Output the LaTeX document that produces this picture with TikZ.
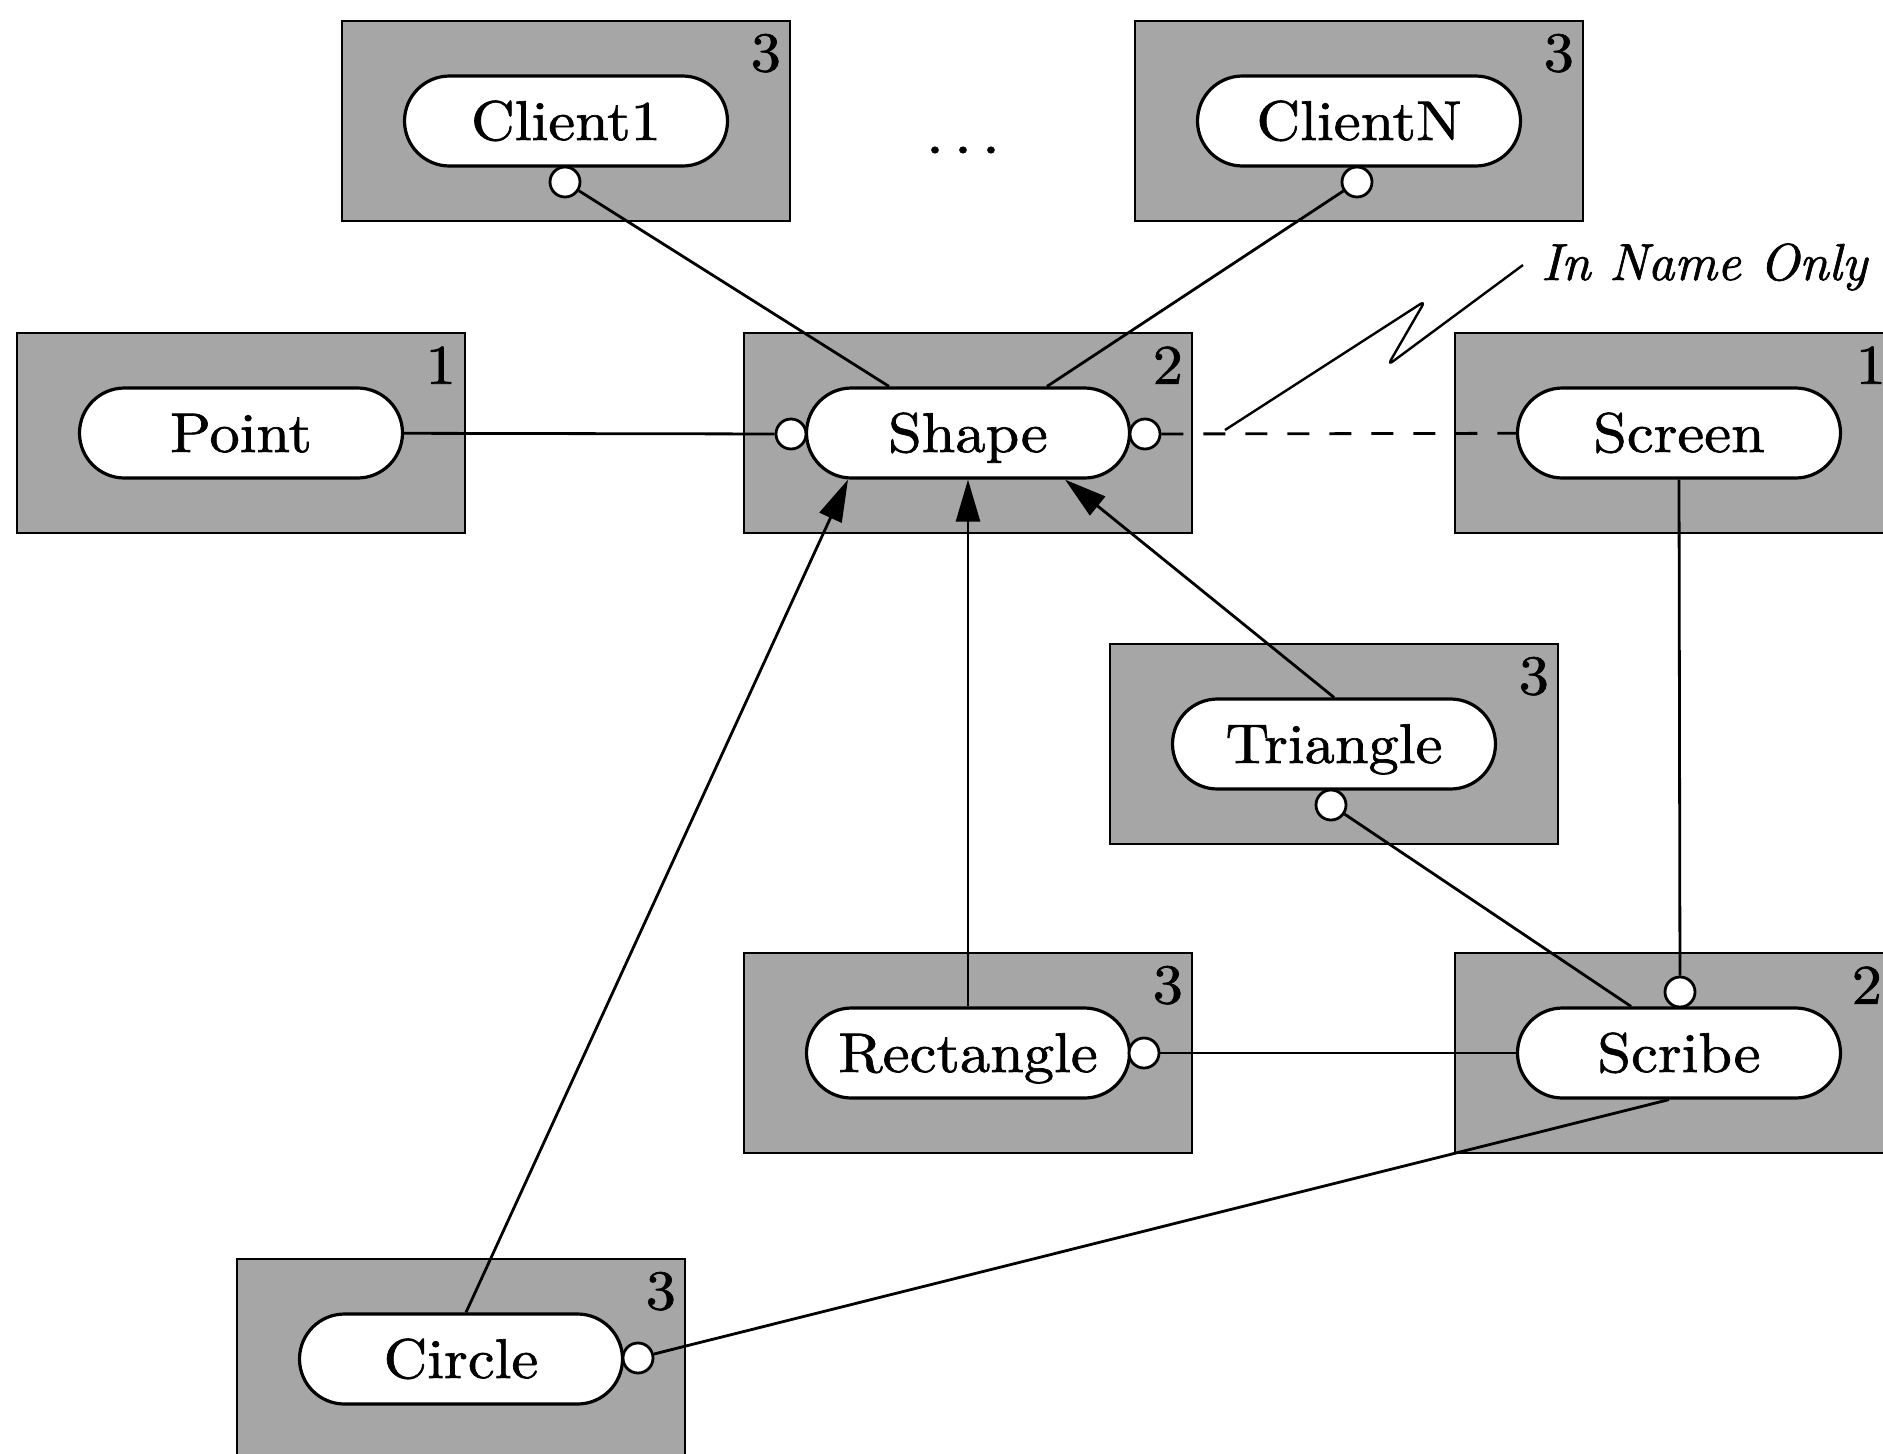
\documentclass[tikz,border=0pt]{standalone}
\usepackage{fontspec}
\newfontfamily\pillfont{lmroman10-regular}[Extension=.otf, FakeBold=1.2, FakeStretch=1.08]
\newfontfamily\pillit{lmroman10-italic}[Extension=.otf, FakeBold=1.2]
\usetikzlibrary{arrows.meta}
\tikzset{
  gbox/.style={draw=black, line width=1.6pt, fill=black!35, minimum width=448pt, minimum height=200pt, inner sep=0pt},
  pill/.style={draw=black, line width=3.2pt, fill=white, rounded corners=45pt, minimum width=323pt, minimum height=90pt, inner sep=0pt, font=\pillfont\fontsize{56}{60}\selectfont, text height=38pt, text depth=0pt},
  lolli/.style={circle, draw=black, line width=2.8pt, fill=white, minimum size=30pt, inner sep=0pt},
  num/.style={inner sep=0pt, font=\pillfont\fontsize{56}{60}\selectfont},
  conn/.style={line width=2.8pt},
  arr/.style={conn, -{Triangle[length=42pt,width=24pt]}},
}
\begin{document}
\begin{tikzpicture}[x=1pt,y=-1pt]
\useasboundingbox (0,0) rectangle (1883,1454);
\fill[white] (0,0) rectangle (1883,1454);
\clip (0,0) rectangle (1883,1454);

% grey boxes
\node[gbox] (bc1) at (566,121) {};
\node[gbox] (bcn) at (1359,121) {};
\node[gbox] (bpt) at (241,433) {};
\node[gbox] (bsh) at (968,433) {};
\node[gbox] (bsc) at (1679,433) {};
\node[gbox] (btr) at (1334,744) {};
\node[gbox] (bre) at (968,1053) {};
\node[gbox] (bsb) at (1679,1053) {};
\node[gbox] (bci) at (461,1359) {};

% numbers
\node[num] (n1) at ([xshift=-25pt,yshift=-33pt]bc1.north east) {3};
\node[num] (n2) at ([xshift=-25pt,yshift=-33pt]bcn.north east) {3};
\node[num] (n3) at ([xshift=-25pt,yshift=-33pt]bpt.north east) {1};
\node[num] (n4) at ([xshift=-25pt,yshift=-33pt]bsh.north east) {2};
\node[num] (n5) at ([xshift=-33pt,yshift=-33pt]bsc.north east) {1};
\node[num] (n6) at ([xshift=-25pt,yshift=-33pt]btr.north east) {3};
\node[num] (n7) at ([xshift=-25pt,yshift=-33pt]bre.north east) {3};
\node[num] (n8) at ([xshift=-37pt,yshift=-33pt]bsb.north east) {2};
\node[num] (n9) at ([xshift=-25pt,yshift=-33pt]bci.north east) {3};

% pills
\node[pill] (client1) at (bc1) {Client1};
\node[pill] (clientN) at (bcn) {ClientN};
\node[pill] (point) at (bpt) {Point};
\node[pill] (shape) at (bsh) {Shape};
\node[pill] (screen) at (bsc) {Screen};
\node[pill] (triangle) at (btr) {Triangle};
\node[pill] (rectangle) at (bre) {Rectangle};
\node[pill] (scribe) at (bsb) {Scribe};
\node[pill] (circle) at (bci) {Circle};

% lollipops
\node[lolli] (lc1) at (565,182) {};
\node[lolli] (lcn) at (1357,182) {};
\node[lolli] (lshL) at (791,434) {};
\node[lolli] (lshR) at (1145,434) {};
\node[lolli] (ltr) at (1331,805) {};
\node[lolli] (lre) at (1144,1053) {};
\node[lolli] (lsb) at (1680,992) {};
\node[lolli] (lci) at (638,1358) {};

% dots and label
\node[inner sep=0pt, font=\pillfont\fontsize{60}{60}\selectfont] (dots) at (963,150) {.\kern10pt.\kern10pt.};
\node[inner sep=0pt, anchor=base west, font=\pillit\fontsize{52}{60}\selectfont] (inname) at (1541,280) {In Name Only};

% connectors
\draw[conn] (lc1) -- ([xshift=-79pt]shape.north);
\draw[conn] (lcn) -- ([xshift=79pt]shape.north);
\draw[conn] (point) -- (lshL);
\draw[conn, dash pattern=on 22pt off 20pt] (lshR) -- (screen);
\coordinate (z0) at (1225,430);
\coordinate (z1) at (1425,301);
\coordinate (z2) at (1388,365);
\coordinate (z3) at (1523,265);
\draw[line width=2.4pt, rounded corners=6pt] (z0) -- (z1) -- (z2) -- (z3);
\draw[arr] (triangle.north) -- ([xshift=97pt]shape.south);
\draw[arr] (rectangle.north) -- (shape.south);
\draw[arr] ([xshift=5pt]circle.north) -- ([xshift=-120pt]shape.south);
\draw[conn] (screen.south) -- (lsb);
\draw[conn] (ltr) -- ([xshift=-48pt]scribe.north);
\draw[conn] (lre) -- (scribe.west);
\draw[conn] (lci) -- ([xshift=-10pt]scribe.south);
\end{tikzpicture}
\end{document}
